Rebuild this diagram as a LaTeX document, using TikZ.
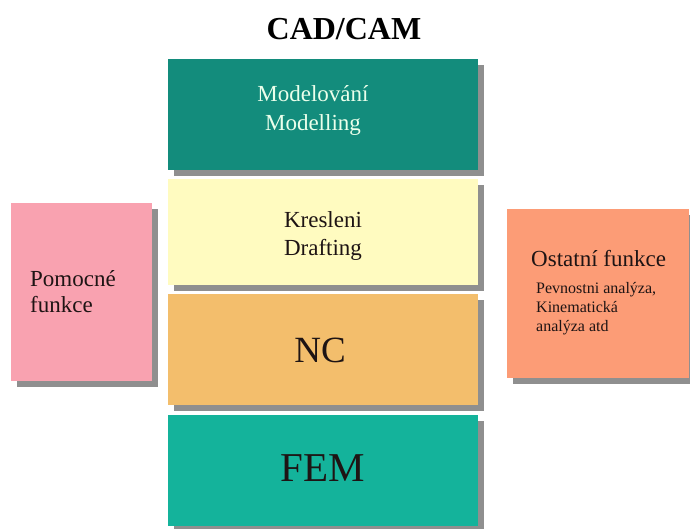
\documentclass[tikz,border=0pt]{standalone}
\usepackage{fontspec}
\setmainfont{Liberation Serif}
\usetikzlibrary{positioning,shadows}

\definecolor{modelcol}{HTML}{138C7C}
\definecolor{kreslcol}{HTML}{FFFBC0}
\definecolor{nccol}{HTML}{F3BE6C}
\definecolor{femcol}{HTML}{14B39B}
\definecolor{pomoccol}{HTML}{F9A2B0}
\definecolor{ostatcol}{HTML}{FC9C76}
\definecolor{shadowcol}{HTML}{8F8F8F}
\definecolor{textcol}{HTML}{1E1414}

\tikzset{
  block/.style={rectangle, draw=none, inner sep=0pt,
    drop shadow={shadow xshift=6pt, shadow yshift=-6pt, fill=shadowcol, opacity=1}},
  label/.style={inner sep=0pt, text=textcol},
}

\begin{document}
\begin{tikzpicture}[x=1pt,y=-1pt]
            \useasboundingbox (0,0) rectangle (690,529);

            % Title
            \node[inner sep=0pt, font={\fontsize{32}{36}\selectfont\bfseries}] (title) at (344,29) {CAD/CAM};

            % Central stack
            \node[block, fill=modelcol, minimum width=310pt, minimum height=111pt] (model) at (323,114.5) {};
            \node[block, fill=kreslcol, minimum width=310pt, minimum height=106pt] (kresl) at (323,232) {};
            \node[block, fill=nccol, minimum width=310pt, minimum height=111pt] (nc) at (323,349.5) {};
            \node[block, fill=femcol, minimum width=310pt, minimum height=111pt] (fem) at (323,470.5) {};

            % Side boxes
            \node[block, fill=pomoccol, minimum width=141pt, minimum height=178pt] (pomoc) at (81.5,292) {};
            \node[block, fill=ostatcol, minimum width=182pt, minimum height=169pt] (ostat) at (598,293.5) {};

            % Texts
            \node[label, text=white!92!green, align=center, font={\fontsize{23}{29}\selectfont}] (modeltxt) at (313,110)
              {Modelování\\ Modelling};
            \node[label, align=center, font={\fontsize{23}{28}\selectfont}] (kresltxt) at (323,236)
              {Kresleni\\ Drafting};
            \node[label, font={\fontsize{37}{40}\selectfont}] (nctxt) at (320,350) {NC};
            \node[label, font={\fontsize{41}{44}\selectfont}] (femtxt) at (323,468) {FEM};
            \node[label, anchor=west, align=left, font={\fontsize{23}{26}\selectfont}] (pomoctxt) at (30,292)
              {Pomocné\\ funkce};
            \node[label, anchor=west, font={\fontsize{23}{26}\selectfont}] (ostattxt) at (531,259)
              {Ostatní funkce};
            \node[label, anchor=north west, align=left, font={\fontsize{16}{19}\selectfont}] (ostatsub) at (536,282)
              {Pevnostni analýza,\\ Kinematická\\ analýza atd};
        \end{tikzpicture}
\end{document}
